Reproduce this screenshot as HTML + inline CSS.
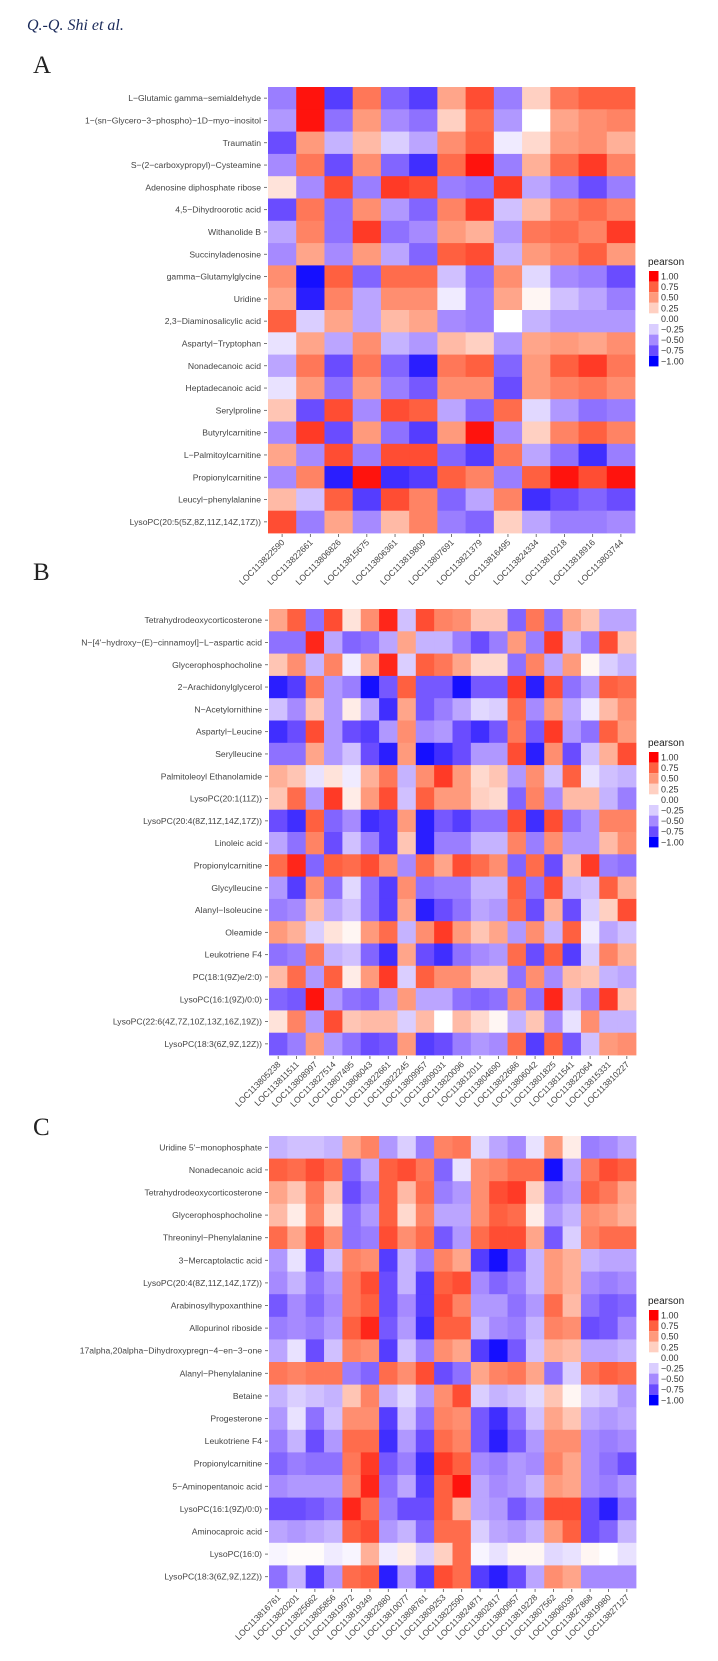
<!DOCTYPE html>
<html><head><meta charset="utf-8"><style>
body{margin:0;background:#fff;width:718px;height:1661px;overflow:hidden}
svg{display:block}
text{font-family:"Liberation Sans",sans-serif}
</style></head><body>
<svg id="fig" width="718" height="1661" viewBox="0 0 718 1661" xmlns="http://www.w3.org/2000/svg">
<text x="27" y="30" style="font-family:'Liberation Serif',serif;font-style:italic;font-size:16px" fill="#1a2a5a">Q.-Q. Shi et al.</text>
</svg>
<script>
const rowsA=["L−Glutamic gamma−semialdehyde","1−(sn−Glycero−3−phospho)−1D−myo−inositol","Traumatin","S−(2−carboxypropyl)−Cysteamine","Adenosine diphosphate ribose","4,5−Dihydroorotic acid","Withanolide B","Succinyladenosine","gamma−Glutamylglycine","Uridine","2,3−Diaminosalicylic acid","Aspartyl−Tryptophan","Nonadecanoic acid","Heptadecanoic acid","Serylproline","Butyrylcarnitine","L−Palmitoylcarnitine","Propionylcarnitine","Leucyl−phenylalanine","LysoPC(20:5(5Z,8Z,11Z,14Z,17Z))"];
const colsA=["LOC113822590","LOC113822661","LOC113806826","LOC113815675","LOC113806361","LOC113819809","LOC113807691","LOC113821379","LOC113816495","LOC113824334","LOC113810218","LOC113818916","LOC113803744"];
const valsA=[
[-0.55,0.95,-0.8,0.65,-0.65,-0.8,0.45,0.8,-0.55,0.25,0.65,0.75,0.75],
[-0.45,0.95,-0.6,0.5,-0.5,-0.6,0.25,0.7,-0.45,0,0.45,0.55,0.6],
[-0.75,0.5,-0.35,0.35,-0.25,-0.4,0.55,0.75,-0.1,0.2,0.5,0.55,0.4],
[-0.5,0.65,-0.75,0.55,-0.65,-0.85,0.7,0.95,-0.55,0.4,0.7,0.85,0.6],
[0.15,-0.5,0.8,-0.55,0.85,0.8,-0.55,-0.6,0.85,-0.4,-0.55,-0.75,-0.55],
[-0.75,0.65,-0.6,0.55,-0.45,-0.65,0.6,0.85,-0.3,0.35,0.6,0.7,0.6],
[-0.4,0.6,-0.6,0.85,-0.6,-0.5,0.5,0.4,-0.45,0.65,0.7,0.6,0.85],
[-0.5,0.45,-0.5,0.5,-0.4,-0.65,0.75,0.8,-0.35,0.5,0.6,0.75,0.5],
[0.55,-0.95,0.75,-0.65,0.7,0.7,-0.3,-0.6,0.55,-0.2,-0.5,-0.55,-0.75],
[0.45,-0.9,0.6,-0.4,0.55,0.55,-0.1,-0.55,0.45,0.05,-0.3,-0.4,-0.55],
[0.75,-0.25,0.45,-0.4,0.35,0.45,-0.5,-0.55,0,-0.35,-0.45,-0.45,-0.45],
[-0.15,0.45,-0.4,0.55,-0.35,-0.45,0.35,0.25,-0.45,0.45,0.5,0.45,0.55],
[-0.4,0.65,-0.75,0.65,-0.65,-0.9,0.65,0.75,-0.65,0.5,0.75,0.85,0.65],
[-0.15,0.5,-0.6,0.5,-0.55,-0.7,0.55,0.55,-0.75,0.5,0.6,0.65,0.55],
[0.3,-0.75,0.8,-0.5,0.8,0.75,-0.4,-0.65,0.7,-0.2,-0.45,-0.6,-0.55],
[-0.5,0.85,-0.75,0.5,-0.6,-0.8,0.5,0.95,-0.5,0.25,0.6,0.75,0.6],
[0.45,-0.5,0.8,-0.55,0.8,0.8,-0.65,-0.8,0.65,-0.4,-0.6,-0.85,-0.55],
[-0.5,0.6,-0.9,0.95,-0.85,-0.8,0.75,0.6,-0.55,0.75,0.95,0.8,0.95],
[0.35,-0.3,0.75,-0.8,0.8,0.6,-0.65,-0.4,0.6,-0.85,-0.75,-0.65,-0.75],
[0.8,-0.55,0.45,-0.5,0.35,0.6,-0.55,-0.65,0.25,-0.4,-0.55,-0.55,-0.5]];

const rowsB=["Tetrahydrodeoxycorticosterone","N−[4'−hydroxy−(E)−cinnamoyl]−L−aspartic acid","Glycerophosphocholine","2−Arachidonylglycerol","N−Acetylornithine","Aspartyl−Leucine","Serylleucine","Palmitoleoyl Ethanolamide","LysoPC(20:1(11Z))","LysoPC(20:4(8Z,11Z,14Z,17Z))","Linoleic acid","Propionylcarnitine","Glycylleucine","Alanyl−Isoleucine","Oleamide","Leukotriene F4","PC(18:1(9Z)e/2:0)","LysoPC(16:1(9Z)/0:0)","LysoPC(22:6(4Z,7Z,10Z,13Z,16Z,19Z))","LysoPC(18:3(6Z,9Z,12Z))"];
const colsB=["LOC113805238","LOC113811511","LOC113808997","LOC113827514","LOC113807495","LOC113806043","LOC113822661","LOC113822245","LOC113809957","LOC113809031","LOC113820096","LOC113812011","LOC113804690","LOC113822686","LOC113806042","LOC113801825","LOC113811541","LOC113822064","LOC113815331","LOC113810227"];
const valsB=[
[0.45,0.75,-0.6,0.8,0.15,0.55,0.9,-0.3,0.8,0.6,0.55,0.3,0.3,-0.65,0.65,-0.6,0.45,0.3,-0.4,-0.4],
[-0.6,-0.6,0.9,-0.4,-0.65,-0.6,-0.4,0.45,-0.35,-0.35,-0.55,-0.75,-0.55,0.5,-0.55,0.85,-0.35,-0.55,0.8,0.3],
[0.3,0.55,-0.35,0.6,-0.1,0.45,0.9,-0.25,0.75,0.65,0.45,0.2,0.2,-0.6,0.6,-0.4,0.5,0.05,-0.25,-0.35],
[-0.9,-0.8,0.65,-0.45,-0.55,-0.95,-0.7,0.75,-0.7,-0.7,-0.95,-0.7,-0.7,0.85,-0.9,0.8,-0.6,-0.45,0.75,0.7],
[-0.3,-0.5,0.3,-0.45,0.1,-0.4,-0.85,0.45,-0.7,-0.55,-0.4,-0.2,-0.25,0.7,-0.5,0.5,-0.4,-0.1,0.35,0.55],
[-0.85,-0.75,0.8,-0.45,-0.75,-0.8,-0.45,0.55,-0.5,-0.45,-0.75,-0.85,-0.7,0.65,-0.7,0.85,-0.45,-0.6,0.75,0.5],
[-0.6,-0.6,0.45,-0.45,-0.3,-0.75,-0.9,0.5,-0.95,-0.85,-0.75,-0.45,-0.45,0.8,-0.9,0.55,-0.75,-0.3,0.4,0.8],
[0.4,0.3,-0.15,0.15,-0.1,0.4,0.65,-0.35,0.55,0.85,0.5,0.2,0.3,-0.45,0.55,-0.3,0.75,-0.15,-0.3,-0.35],
[0.3,0.7,-0.45,0.85,0.1,0.5,0.8,-0.3,0.75,0.5,0.5,0.25,0.2,-0.65,0.6,-0.5,0.35,0.35,-0.35,-0.55],
[-0.75,-0.85,0.75,-0.65,-0.5,-0.85,-0.8,0.5,-0.9,-0.7,-0.8,-0.6,-0.6,0.8,-0.85,0.8,-0.6,-0.45,0.6,0.6],
[-0.4,-0.6,0.6,-0.75,-0.3,-0.55,-0.8,0.3,-0.9,-0.55,-0.55,-0.35,-0.35,0.6,-0.55,0.55,-0.45,-0.45,0.35,0.55],
[0.7,0.9,-0.65,0.75,0.7,0.8,0.55,-0.5,0.7,0.45,0.8,0.7,0.55,-0.65,0.7,-0.75,0.35,0.85,-0.55,-0.6],
[-0.45,-0.8,0.55,-0.6,-0.2,-0.6,-0.8,0.55,-0.6,-0.55,-0.55,-0.35,-0.35,0.75,-0.6,0.8,-0.35,-0.3,0.75,0.4],
[-0.55,-0.5,0.35,-0.4,-0.3,-0.6,-0.8,0.45,-0.9,-0.75,-0.6,-0.4,-0.45,0.7,-0.75,0.4,-0.75,-0.25,0.25,0.8],
[0.5,0.4,-0.25,0.15,0.05,0.5,0.7,-0.35,0.55,0.85,0.5,0.3,0.45,-0.45,0.55,-0.35,0.75,-0.1,-0.4,-0.3],
[-0.6,-0.55,0.65,-0.35,-0.3,-0.65,-0.85,0.45,-0.75,-0.85,-0.6,-0.5,-0.45,0.7,-0.75,0.75,-0.8,-0.25,0.6,0.4],
[0.35,0.7,-0.45,0.75,0.1,0.5,0.85,-0.25,0.75,0.55,0.55,0.3,0.3,-0.6,0.55,-0.5,0.35,0.3,-0.35,-0.4],
[-0.65,-0.7,0.95,-0.45,-0.6,-0.65,-0.45,0.5,-0.4,-0.4,-0.6,-0.65,-0.6,0.55,-0.6,0.9,-0.35,-0.55,0.85,0.3],
[0.15,0.6,-0.45,0.8,0.3,0.35,0.35,-0.25,0.35,0.0,0.35,0.2,0.05,-0.35,0.3,-0.5,-0.15,0.55,-0.35,-0.35],
[-0.7,-0.55,0.5,-0.45,-0.6,-0.75,-0.7,0.5,-0.8,-0.75,-0.55,-0.45,-0.5,0.7,-0.8,0.75,-0.7,-0.3,0.5,0.55]];

const rowsC=["Uridine 5'−monophosphate","Nonadecanoic acid","Tetrahydrodeoxycorticosterone","Glycerophosphocholine","Threoninyl−Phenylalanine","3−Mercaptolactic acid","LysoPC(20:4(8Z,11Z,14Z,17Z))","Arabinosylhypoxanthine","Allopurinol riboside","17alpha,20alpha−Dihydroxypregn−4−en−3−one","Alanyl−Phenylalanine","Betaine","Progesterone","Leukotriene F4","Propionylcarnitine","5−Aminopentanoic acid","LysoPC(16:1(9Z)/0:0)","Aminocaproic acid","LysoPC(16:0)","LysoPC(18:3(6Z,9Z,12Z))"];
const colsC=["LOC113816761","LOC113820201","LOC113825662","LOC113805856","LOC113819972","LOC113819349","LOC113822880","LOC113810077","LOC113808761","LOC113809253","LOC113822590","LOC113824871","LOC113802817","LOC113800957","LOC113819228","LOC113807562","LOC113806039","LOC113827868","LOC113819980","LOC113827127"];
const valsC=[
[-0.35,-0.3,-0.3,-0.35,0.45,0.6,-0.45,-0.25,-0.55,0.6,0.65,-0.2,-0.4,-0.5,-0.15,0.5,0.1,-0.55,-0.5,-0.4],
[0.75,0.7,0.8,0.7,-0.65,-0.4,0.75,0.8,0.65,-0.65,-0.15,0.55,0.6,0.7,0.7,-0.95,-0.4,0.65,0.8,0.75],
[0.45,0.3,0.65,0.3,-0.75,-0.55,0.75,0.35,0.7,-0.55,-0.45,0.55,0.8,0.85,0.25,-0.55,-0.45,0.75,0.65,0.45],
[0.35,0.1,0.6,0.15,-0.6,-0.45,0.75,0.2,0.6,-0.4,-0.4,0.55,0.75,0.7,0.1,-0.45,-0.35,0.55,0.5,0.4],
[0.7,0.45,0.8,0.55,-0.6,-0.55,0.8,0.55,0.7,-0.7,-0.45,0.7,0.8,0.8,0.45,-0.7,-0.25,0.6,0.7,0.7],
[-0.45,-0.15,-0.75,-0.3,0.6,0.55,-0.8,-0.35,-0.55,0.6,0.45,-0.8,-0.95,-0.7,-0.35,0.5,0.4,-0.35,-0.4,-0.4],
[-0.5,-0.35,-0.6,-0.45,0.65,0.8,-0.75,-0.35,-0.8,0.75,0.8,-0.5,-0.65,-0.55,-0.35,0.5,0.4,-0.5,-0.55,-0.5],
[-0.7,-0.5,-0.65,-0.5,0.65,0.75,-0.75,-0.5,-0.8,0.8,0.6,-0.45,-0.45,-0.6,-0.45,0.7,0.35,-0.6,-0.7,-0.65],
[-0.55,-0.5,-0.55,-0.45,0.75,0.9,-0.7,-0.45,-0.85,0.75,0.75,-0.35,-0.5,-0.55,-0.35,0.6,0.55,-0.75,-0.7,-0.5],
[-0.4,-0.15,-0.75,-0.3,0.6,0.55,-0.8,-0.3,-0.55,0.55,0.45,-0.8,-0.95,-0.7,-0.3,0.4,0.35,-0.4,-0.4,-0.35],
[0.65,0.6,0.65,0.65,-0.55,-0.65,0.7,0.55,0.8,-0.75,-0.6,0.45,0.6,0.65,0.45,-0.6,-0.25,0.65,0.75,0.7],
[-0.35,-0.25,-0.3,-0.35,0.3,0.6,-0.35,-0.2,-0.45,0.55,0.8,-0.25,-0.35,-0.3,-0.2,0.3,0.05,-0.25,-0.3,-0.45],
[-0.45,-0.15,-0.6,-0.3,0.55,0.55,-0.8,-0.3,-0.6,0.6,0.55,-0.7,-0.85,-0.6,-0.3,0.45,0.3,-0.4,-0.45,-0.4],
[-0.55,-0.35,-0.75,-0.45,0.7,0.7,-0.85,-0.45,-0.75,0.7,0.6,-0.7,-0.9,-0.7,-0.45,0.55,0.55,-0.5,-0.55,-0.5],
[-0.65,-0.55,-0.6,-0.6,0.65,0.85,-0.7,-0.55,-0.85,0.85,0.75,-0.5,-0.55,-0.45,-0.5,0.6,0.45,-0.5,-0.6,-0.75],
[-0.5,-0.45,-0.45,-0.45,0.6,0.9,-0.6,-0.4,-0.8,0.75,0.95,-0.4,-0.5,-0.45,-0.35,0.5,0.45,-0.5,-0.55,-0.45],
[-0.75,-0.75,-0.7,-0.6,0.9,0.7,-0.55,-0.75,-0.75,0.75,0.4,-0.4,-0.45,-0.7,-0.55,0.8,0.8,-0.75,-0.9,-0.6],
[-0.4,-0.45,-0.4,-0.35,0.75,0.8,-0.45,-0.35,-0.65,0.7,0.7,-0.25,-0.4,-0.45,-0.35,0.5,0.75,-0.75,-0.65,-0.35],
[-0.05,0.02,0.02,-0.1,-0.05,0.4,-0.1,0.1,-0.25,0.25,0.7,-0.05,-0.15,0.05,0.05,-0.2,-0.15,0.05,0.0,-0.15],
[-0.6,-0.35,-0.8,-0.45,0.7,0.75,-0.9,-0.45,-0.8,0.8,0.7,-0.8,-0.9,-0.75,-0.4,0.55,0.45,-0.5,-0.5,-0.5]];

const legendVals=[1,0.75,0.5,0.25,0,-0.25,-0.5,-0.75,-1];
const legendLabels=["1.00","0.75","0.50","0.25","0.00","−0.25","−0.50","−0.75","−1.00"];

const NS="http://www.w3.org/2000/svg";
const svg=document.getElementById('fig');
const redStops=[[255,255,255],[255,208,194],[255,154,124],[255,96,64],[255,0,0]];
const blueStops=[[255,255,255],[218,206,255],[166,138,255],[106,76,255],[0,0,255]];
function color(v){
  v=Math.max(-1,Math.min(1,v));
  const st=v>=0?redStops:blueStops;
  const t=Math.abs(v)*4, i=Math.min(3,Math.floor(t)), f=t-i;
  const a=st[i],b=st[i+1];
  return 'rgb('+a.map((c,k)=>Math.round(c+(b[k]-c)*f)).join(',')+')';
}
function mk(tag,attrs,parent){const e=document.createElementNS(NS,tag);for(const k in attrs)e.setAttribute(k,attrs[k]);(parent||svg).appendChild(e);return e;}

function panel(id,letter,letterY,rows,cols,vals,x0,x1,y0,y1,legY){
  const g=mk('g',{});
  
  
  const L=mk('text',{x:33,y:letterY,fill:'#222',style:"font-family:'Liberation Serif',serif;font-size:25px"},g);
  L.textContent=letter;
  
  
  const cw=(x1-x0)/cols.length, rh=(y1-y0)/rows.length;
  const xs=j=>x0+j*cw, ys=i=>y0+i*rh;
  vals.forEach((row,i)=>row.forEach((v,j)=>{
    const r=mk('rect',{x:xs(j),y:ys(i),width:cw+0.4,height:rh+0.4,fill:color(v)},g);
    
    
  }));
  rows.forEach((name,i)=>{
    const cy=ys(i)+rh/2;
    const t=mk('text',{x:x0-7,y:cy+3,'text-anchor':'end','font-size':8.6,fill:'#444'},g);
    t.textContent=name;
    
    
    mk('line',{x1:x0-4,x2:x0-1,y1:cy,y2:cy,stroke:'#555','stroke-width':0.8},g);
  });
  cols.forEach((name,j)=>{
    const cx=xs(j)+cw/2;
    mk('line',{x1:cx,x2:cx,y1:y1+1,y2:y1+4,stroke:'#555','stroke-width':0.8},g);
    const t=mk('text',{x:cx+3,y:y1+10,'text-anchor':'end','font-size':8.6,fill:'#444',transform:'rotate(-45 '+(cx+3)+' '+(y1+10)+')'},g);
    t.textContent=name;
    
    
  });
  const lg=mk('g',{},g);
  
  
  const tt=mk('text',{x:648,y:legY,'font-size':10,fill:'#222'},lg);
  tt.textContent='pearson';
  legendVals.forEach((v,k)=>{
    const yy=legY+6+k*10.6;
    mk('rect',{x:649,y:yy,width:9.5,height:10.6,fill:color(v)},lg);
    const lt=mk('text',{x:661,y:yy+8.5,'font-size':9,fill:'#333'},lg);
    lt.textContent=legendLabels[k];
    
    
  });
}
panel('a','A',73,rowsA,colsA,valsA,268,635,87,533,265);
panel('b','B',580,rowsB,colsB,valsB,269,636,609,1055,746);
panel('c','C',1135,rowsC,colsC,valsC,269,636,1136,1588,1304);
</script>
</body></html>
